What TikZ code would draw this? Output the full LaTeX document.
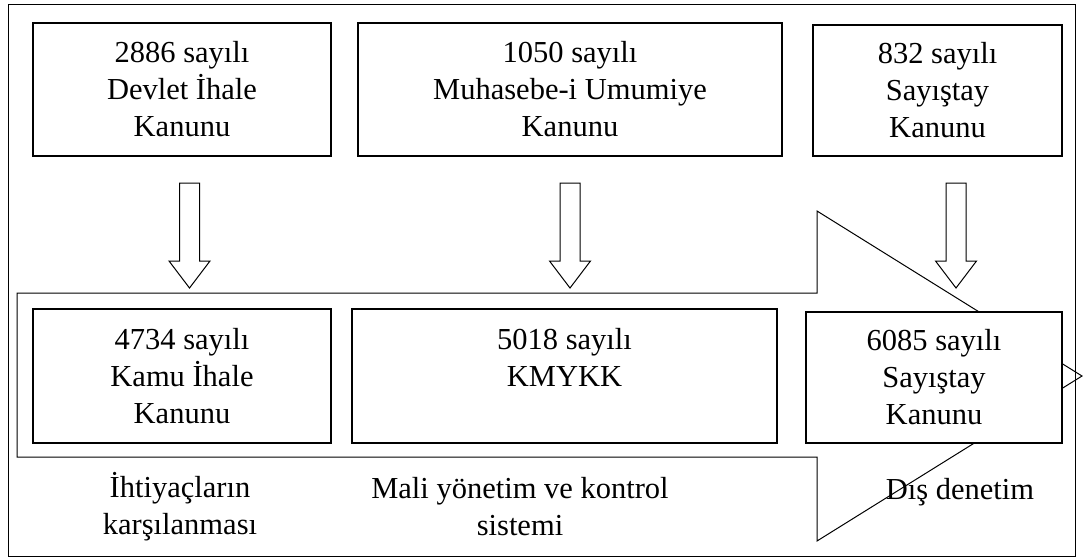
\documentclass[tikz,border=0pt]{standalone}
\usepackage{fontspec}
\setmainfont{Liberation Serif}
\usetikzlibrary{positioning}

% hollow arrow pointing down, top of its shaft at #1
\newcommand{\downblock}[1]{%
  \draw[blockline,fill=white,shift={(#1)}] (-10,0) -- (-10,78) -- (-20.5,78)
    -- (0,105) -- (20.5,78) -- (10,78) -- (10,0) -- cycle;}

\begin{document}
\begin{tikzpicture}[x=1pt,y=-1pt,
    law/.style={rectangle,draw,line width=1.3pt,fill=white,inner sep=0pt,
      align=center,font=\fontsize{30.5}{37}\selectfont},
    caption/.style={align=center,inner sep=0pt,font=\fontsize{30.5}{37}\selectfont},
    blockline/.style={line width=1pt,line join=miter}]
  \useasboundingbox (0,0) rectangle (1083,557);
  \draw[line width=1pt] (8,4) rectangle (1075,556);
  % big arrow behind the new laws
  \draw[blockline] (17,293) -- (817,293) -- (817,211) -- (1082,376)
    -- (817,541) -- (817,457) -- (17,457) -- cycle;
  % old laws
  \node[law,minimum width=298,minimum height=133] (devlet) at (182,89.5)
    {2886 sayılı\\Devlet İhale\\Kanunu};
  \node[law,minimum width=424,minimum height=133] (muhasebe) at (570,89.5)
    {1050 sayılı\\Muhasebe-i Umumiye\\Kanunu};
  \node[law,minimum width=249,minimum height=131] (saystaryeski) at (937.5,90.5)
    {832 sayılı\\Sayıştay\\Kanunu};
  % new laws
  \node[law,minimum width=298,minimum height=134] (kamu) at (182,376)
    {4734 sayılı\\Kamu İhale\\Kanunu};
  \node[law,minimum width=425,minimum height=134] (kmykk) at (564.5,376)
    {5018 sayılı\\KMYKK\\~};
  \node[law,minimum width=256,minimum height=131] (sayistayyeni) at (934,377.5)
    {6085 sayılı\\Sayıştay\\Kanunu};
  % arrows between them
  \coordinate (ar1) at (189.5,183);
  \coordinate (ar2) at (570,183);
  \coordinate (ar3) at (956,183);
  \downblock{ar1}
  \downblock{ar2}
  \downblock{ar3}
  % captions
  \node[caption] (ihtiyac) at (180,506.5) {İhtiyaçların\\karşılanması};
  \node[caption] (mali) at (520,506.5) {Mali yönetim ve kontrol\\sistemi};
  \node[caption] (denetim) at (960,492) {Dış denetim};
\end{tikzpicture}
\end{document}
